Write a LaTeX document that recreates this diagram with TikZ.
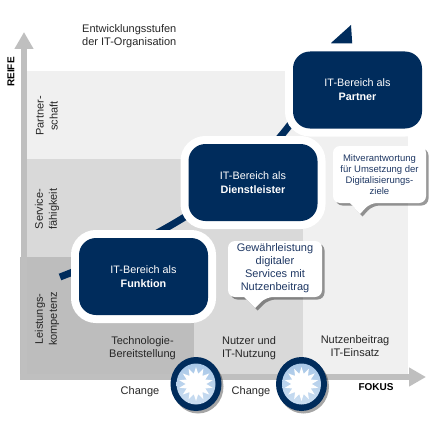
\documentclass[tikz,border=0pt]{standalone}
\usepackage{fontspec}
\setmainfont{Liberation Sans}
\usetikzlibrary{arrows.meta, shapes.geometric, shadows, calc}
\definecolor{navy}{HTML}{002C5C}
\definecolor{bandlight}{HTML}{F0F0F0}
\definecolor{bandmid}{HTML}{D9D9D9}
\definecolor{banddark}{HTML}{BDBDBD}
\definecolor{axisgray}{HTML}{BFBFBF}
\definecolor{noteblue}{HTML}{1F3864}
\definecolor{discblue}{HTML}{A9C8E8}
\tikzset{
    txt/.style={align=center, inner sep=0pt, font=\fontsize{11}{13}\selectfont, text=black!85},
    axislabel/.style={inner sep=0pt, font=\fontsize{10}{12}\selectfont\bfseries},
    axisarrow/.style={draw=axisgray, line width=6pt, -{Triangle[length=17pt, width=18pt]}},
    stage/.style={rectangle, rounded corners=17pt, fill=navy, text=white, align=center, inner sep=0pt, outer sep=0pt,
        minimum width=129pt, minimum height=77pt, font=\fontsize{10.8}{13}\selectfont,
        preaction={draw=white, line width=16pt}},
    note/.style={fill=white, rounded corners=7pt,
        drop shadow={shadow xshift=2.5pt, shadow yshift=-2.5pt, fill=black, opacity=0.4}},
    notetext/.style={align=center, inner sep=0pt, text=noteblue},
    ring/.style={ellipse, fill=navy, minimum width=51pt, minimum height=54pt, inner sep=0pt,
        drop shadow={shadow xshift=2pt, shadow yshift=-2.5pt, fill=black, opacity=0.35}},
    disc/.style={ellipse, minimum width=39pt, minimum height=41pt, inner sep=0pt,
        top color=discblue, bottom color=discblue!60},
    burst/.style={star, star points=14, star point ratio=1.65, fill=white, minimum size=34pt, inner sep=0pt},
}
\begin{document}
\begin{tikzpicture}[x=1pt, y=-1pt]
    \useasboundingbox (0,0) rectangle (444,420);

    % Bands
    \fill[bandlight] (27,71) rectangle (408,374);
    \fill[bandmid] (27,159) rectangle (303,374);
    \fill[banddark] (20,257) rectangle (194,380);

    % Axes
    \coordinate (origin) at (24,377);
    \coordinate (reifetip) at (24,32);
    \coordinate (fokustip) at (426,377);
    \draw[axisarrow] (origin) -- (reifetip);
    \draw[axisarrow] (20,377) -- (fokustip);
    \node[axislabel, rotate=90] (reife) at (11,72) {REIFE};
    \node[axislabel] (fokus) at (376,387) {FOKUS};

    % Rising path behind the stages
    \coordinate (pathstart) at (60,277);
    \coordinate (pathtip) at (351,25);
    \draw[navy, line width=7pt] (pathstart) .. controls (130,250) and (230,205) .. (292,122) -- (335,45);
    \fill[navy] (pathtip) -- (331,43) -- (340,60) -- (353,55) -- cycle;

    % Stages
    \node[stage] (funktion) at (143.5,276.5) {IT-Bereich als\\[1pt]\textbf{Funktion}};
    \node[stage] (dienstleister) at (253,182.5) {IT-Bereich als\\[1pt]\textbf{Dienstleister}};
    \node[stage] (partner) at (357.5,90) {IT-Bereich als\\[1pt]\textbf{Partner}};

    % Notes
    \path[note] (228,241) -- (322,241) -- (322,297) -- (266,297) [sharp corners] -- (255,308) -- (244,297) [rounded corners=7pt] -- (228,297) -- cycle;
    \node[notetext, font=\fontsize{11}{13}\selectfont] (gewaehr) at (275,268.5)
        {Gewährleistung\\digitaler\\Services mit\\Nutzenbeitrag};
    \path[note] (333,146) -- (426,146) -- (426,203) -- (370,203) [sharp corners] -- (360,214) -- (350,203) [rounded corners=7pt] -- (333,203) -- cycle;
    \node[notetext, font=\fontsize{9.5}{11}\selectfont] (mitver) at (379.5,175)
        {Mitverantwortung\\für Umsetzung der\\Digitalisierungs-\\ziele};

    % Row and column labels
    \node[txt] (title) at (82,36.5) [anchor=west, align=left] {Entwicklungsstufen\\der IT-Organisation};
    \node[txt, rotate=90] (partnerschaft) at (47,116) {Partner-\\[1pt]schaft};
    \node[txt, rotate=90] (service) at (47,209) {Service-\\[1pt]fähigkeit};
    \node[txt, rotate=90] (leistung) at (47,319) {Leistungs-\\[1pt]kompetenz};
    \node[txt] (technologie) at (142.5,348) {Technologie-\\Bereitstellung};
    \node[txt] (nutzer) at (249,348) {Nutzer und\\IT-Nutzung};
    \node[txt] (einsatz) at (355,346) {Nutzenbeitrag\\IT-Einsatz};

    % Change points
    \foreach \name/\cx in {changea/196, changeb/301.5} {
        \node[ring] (\name) at (\cx,384) {};
        \node[disc] at (\name) {};
        \node[burst] at (\name) {};
    }
    \node[txt] (changelabela) at (140,392) {Change};
    \node[txt] (changelabelb) at (251,392) {Change};

\end{tikzpicture}
\end{document}
